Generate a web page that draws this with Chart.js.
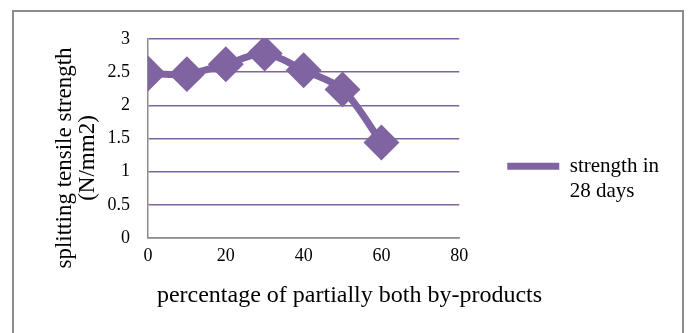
<!DOCTYPE html>
<html>
<head>
<meta charset="utf-8">
<script src="https://cdn.jsdelivr.net/npm/chart.js@4"></script>
<style>
  html, body { margin: 0; padding: 0; background: #fff; }
  #wrap { position: relative; width: 689px; height: 333px; overflow: hidden; }
  #frame { position: absolute; left: 12px; top: 10px; width: 672px; height: 340px; border: 2px solid #8c8c8c; box-sizing: border-box; }
  canvas { position: absolute; left: 0; top: 0; }
</style>
</head>
<body>
<div id="wrap">
  <div id="frame"></div>
  <canvas id="strengthChart" width="689" height="333"></canvas>
</div>
<script>
// percentage of by-products replaced
const percentages = [0, 10, 20, 30, 40, 50, 60];
// splitting tensile strength at 28 days (N/mm2)
const strength28 = [2.48, 2.47, 2.62, 2.78, 2.53, 2.24, 1.44];
const xTicks = [0, 20, 40, 60, 80];
const yTicks = [0, 0.5, 1, 1.5, 2, 2.5, 3];
const seriesLabel = ['strength in', '28 days'];
const yTitle = ['splitting tensile strength', '(N/mm2)'];
const xTitle = 'percentage of partially both by-products';

const purple = '#8064a2';
const serif = "'Liberation Serif', 'Times New Roman', serif";

// the scale title gets squeezed to the plot height, so draw the y title ourselves
const yTitlePlugin = {
  id: 'yTitle',
  afterDraw(chart) {
    const c = chart.ctx;
    const midY = chart.chartArea.top + 119;
    c.save();
    c.fillStyle = '#000';
    c.font = '23px ' + serif;
    c.textAlign = 'center';
    c.textBaseline = 'middle';
    yTitle.forEach((line, i) => {
      c.save();
      c.translate(65 + i * 23, midY);
      c.rotate(-Math.PI / 2);
      c.fillText(line, 0, 0);
      c.restore();
    });
    c.restore();
  }
};

const ctx = document.getElementById('strengthChart').getContext('2d');
const strengthChart = new Chart(ctx, {
  type: 'line',
  data: {
    datasets: [{
      label: seriesLabel.join(' '),
      data: percentages.map((p, i) => ({ x: p, y: strength28[i] })),
      borderColor: purple,
      backgroundColor: purple,
      borderWidth: 7,
      tension: 0.3,
      pointStyle: 'rectRot',
      pointRadius: 13,
      pointHoverRadius: 13,
      fill: false,
    }],
  },
  plugins: [yTitlePlugin],
  options: {
    responsive: false,
    animation: false,
    layout: { padding: { left: 30, top: 39, right: 20, bottom: 10 } },
    plugins: {
      tooltip: { enabled: false },
      title: {
        display: true,
        position: 'bottom',
        text: xTitle,
        color: '#000',
        font: { family: serif, size: 24, weight: 'normal', lineHeight: 1.2 },
        padding: { top: 7.6, bottom: 13 },
      },
      legend: {
        position: 'right',
        maxWidth: 300,
        labels: {
          color: '#000',
          font: { family: serif, size: 21, lineHeight: 1.2 },
          boxWidth: 52,
          boxHeight: 7,
          padding: 48,
          generateLabels: () => [{
            text: seriesLabel,
            fillStyle: purple,
            strokeStyle: purple,
            lineWidth: 0,
          }],
        },
      },
    },
    scales: {
      x: {
        type: 'linear',
        min: 0,
        max: 80,
        afterBuildTicks: axis => { axis.ticks = xTicks.map(v => ({ value: v })); },
        grid: { display: false, drawTicks: false },
        border: { color: '#8c8c8c', width: 1.5 },
        ticks: { color: '#000', font: { family: serif, size: 18 }, padding: 7 },
      },
      y: {
        min: 0,
        max: 3,
        afterBuildTicks: axis => { axis.ticks = yTicks.map(v => ({ value: v })); },
        afterFit: axis => { axis.width = 118; },
        grid: { color: purple, lineWidth: 1.5, drawTicks: false },
        border: { color: '#8c8c8c', width: 1.5 },
        ticks: {
          color: '#000',
          font: { family: serif, size: 18 },
          padding: 18,
          callback: v => String(v),
        },
      },
    },
  },
});
</script>
</body>
</html>
